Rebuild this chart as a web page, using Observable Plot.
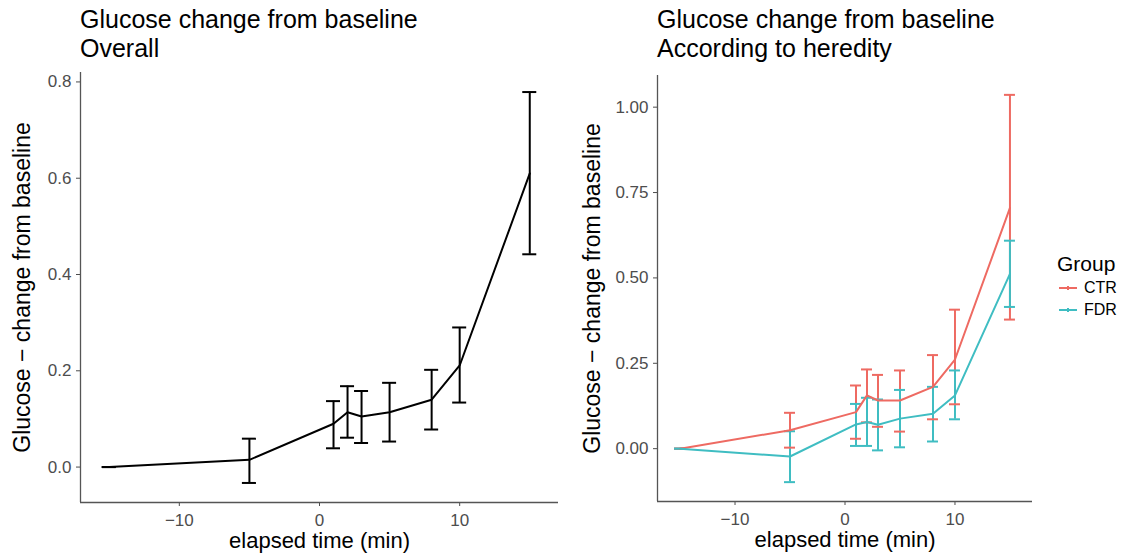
<!DOCTYPE html>
<html>
<head>
<meta charset="utf-8">
<script src="https://cdn.jsdelivr.net/npm/d3@7"></script>
<script src="https://cdn.jsdelivr.net/npm/@observablehq/plot@0.6"></script>
<style>
  html, body { margin: 0; padding: 0; background: white; }
  #root { position: relative; width: 1133px; height: 559px; overflow: hidden; font-family: "Liberation Sans", Arial, sans-serif; color: #000; }
  .title { position: absolute; font-size: 25px; line-height: 29px; white-space: nowrap; }
  .plot { position: absolute; top: 62px; }
  #legend { position: absolute; left: 1057px; top: 251px; }
  #legend .lt { font-size: 21px; line-height: 26px; }
  #legend .row { display: flex; align-items: center; height: 22px; font-size: 16px; }
  #legend svg { margin-right: 5px; }
</style>
</head>
<body>
<div id="root">
  <div class="title" style="left:80px; top:5px;">Glucose change from baseline<br>Overall</div>
  <div class="title" style="left:657px; top:5px;">Glucose change from baseline<br>According to heredity</div>
  <div id="left" class="plot" style="left:0px;"></div>
  <div id="right" class="plot" style="left:560px;"></div>
  <div id="legend"></div>
</div>
<script>
// ---- data ----
const times = [-15, -5, 1, 2, 3, 5, 8, 10, 15];

const overallMean = [0, 0.015, 0.090, 0.114, 0.105, 0.114, 0.140, 0.211, 0.610];
const overallLo   = [0, -0.033, 0.039, 0.061, 0.050, 0.053, 0.078, 0.134, 0.442];
const overallHi   = [0, 0.059, 0.137, 0.168, 0.158, 0.175, 0.202, 0.290, 0.779];

const groups = ["CTR", "FDR"];
const ctrMean = [0, 0.054, 0.107, 0.156, 0.141, 0.141, 0.181, 0.261, 0.705];
const ctrLo   = [0, 0.003, 0.029, 0.077, 0.064, 0.050, 0.086, 0.130, 0.378];
const ctrHi   = [0, 0.105, 0.185, 0.232, 0.216, 0.229, 0.274, 0.407, 1.036];

const fdrMean = [0, -0.023, 0.071, 0.078, 0.070, 0.088, 0.102, 0.156, 0.512];
const fdrLo   = [0, -0.098, 0.008, 0.008, -0.005, 0.004, 0.021, 0.086, 0.415];
const fdrHi   = [0, 0.051, 0.131, 0.149, 0.144, 0.172, 0.181, 0.229, 0.609];

const groupColors = ["#EE6A62", "#3FBDC2"];

const xTicks = [-10, 0, 10];
const yTicksLeft = [0, 0.2, 0.4, 0.6, 0.8];
const yTicksRight = [0, 0.25, 0.5, 0.75, 1.0];

const xLabel = "elapsed time (min)";
const yLabel = "Glucose \u2212 change from baseline";
const legendTitle = "Group";

// ---- build tables ----
const overall = times.map((t, i) => ({x: t, mean: overallMean[i], lo: overallLo[i], hi: overallHi[i]}));
const byGroup = [];
times.forEach((t, i) => byGroup.push({x: t, group: "CTR", mean: ctrMean[i], lo: ctrLo[i], hi: ctrHi[i]}));
times.forEach((t, i) => byGroup.push({x: t, group: "FDR", mean: fdrMean[i], lo: fdrLo[i], hi: fdrHi[i]}));

const capW = 1; // errorbar width in x units
function expand(lo, hi) { const r = hi - lo; return [lo - 0.05 * r, hi + 0.05 * r]; }
const xDomain = expand(d3.min(times) - capW / 2, d3.max(times) + capW / 2);
const yDomLeft = expand(d3.min(overallLo), d3.max(overallHi));
const yDomRight = expand(d3.min(byGroup, d => d.lo), d3.max(byGroup, d => d.hi));

const font = "Liberation Sans, Arial, sans-serif";
const axisCol = "#555";
const tickCol = "#4d4d4d";

function errorMarks(data, opts) {
  return [
    Plot.ruleX(data, {x: "x", y1: "lo", y2: "hi", strokeWidth: 2, ...opts}),
    Plot.ruleY(data, {y: "hi", x1: d => d.x - capW / 2, x2: d => d.x + capW / 2, strokeWidth: 2, ...opts}),
    Plot.ruleY(data, {y: "lo", x1: d => d.x - capW / 2, x2: d => d.x + capW / 2, strokeWidth: 2, ...opts})
  ];
}

function commonAxes(yTicks, yFmt, yDom, yTitleDx) {
  return [
    Plot.axisX({ticks: xTicks, tickSize: 4, tickPadding: 7, fontSize: 17, color: tickCol, label: null}),
    Plot.axisY({ticks: yTicks, tickFormat: yFmt, tickSize: 4, tickPadding: 5, fontSize: 17, color: tickCol, label: null}),
    Plot.ruleY([yDom[0]], {stroke: axisCol, strokeWidth: 1.3}),
    Plot.ruleX([xDomain[0]], {stroke: axisCol, strokeWidth: 1.3}),
    Plot.text([xLabel], {text: d => d, frameAnchor: "bottom", dy: 45, fontSize: 22, fill: "black"}),
    Plot.text([yLabel], {text: d => d, frameAnchor: "left", textAnchor: "middle", lineAnchor: "middle", dx: yTitleDx, rotate: -90, fontSize: 23, fill: "black"})
  ];
}

const leftPlot = Plot.plot({
  width: 565, height: 497,
  marginLeft: 80, marginRight: 7, marginTop: 10, marginBottom: 57,
  style: {fontFamily: font, fontSize: "16px", background: "white", overflow: "visible"},
  x: {domain: xDomain},
  y: {domain: yDomLeft},
  marks: [
    ...commonAxes(yTicksLeft, d3.format(".1f"), yDomLeft, -58),
    ...errorMarks(overall, {stroke: "black"}),
    Plot.line(overall, {x: "x", y: "mean", stroke: "black", strokeWidth: 2})
  ]
});
document.getElementById("left").appendChild(leftPlot);

const rightPlot = Plot.plot({
  width: 480, height: 497,
  marginLeft: 97, marginRight: 8, marginTop: 13, marginBottom: 58,
  style: {fontFamily: font, fontSize: "16px", background: "white", overflow: "visible"},
  x: {domain: xDomain},
  y: {domain: yDomRight},
  color: {domain: groups, range: groupColors},
  marks: [
    ...commonAxes(yTicksRight, d3.format(".2f"), yDomRight, -65),
    ...errorMarks(byGroup, {stroke: "group"}),
    Plot.line(byGroup, {x: "x", y: "mean", z: "group", stroke: "group", strokeWidth: 2})
  ]
});
document.getElementById("right").appendChild(rightPlot);

// ---- legend ----
const leg = document.getElementById("legend");
const lt = document.createElement("div");
lt.className = "lt";
lt.textContent = legendTitle;
leg.appendChild(lt);
groups.forEach((g, i) => {
  const row = document.createElement("div");
  row.className = "row";
  const c = groupColors[i];
  row.innerHTML = `<svg width="22" height="14"><line x1="2" x2="20" y1="7" y2="7" stroke="${c}" stroke-width="2"/><line x1="11" x2="11" y1="5" y2="9" stroke="${c}" stroke-width="2"/></svg><span>${g}</span>`;
  leg.appendChild(row);
});
</script>
</body>
</html>
